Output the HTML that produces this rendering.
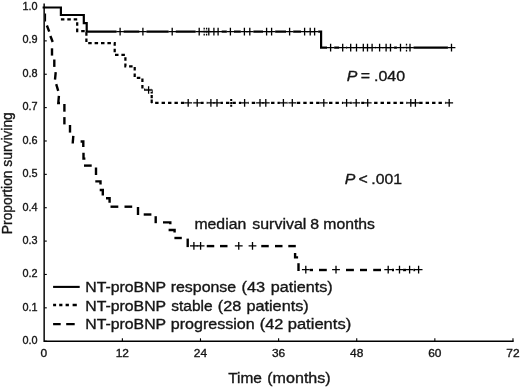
<!DOCTYPE html>
<html><head><meta charset="utf-8"><title>Kaplan-Meier</title>
<style>
html,body{margin:0;padding:0;background:#fff;}
body{width:520px;height:388px;overflow:hidden;}
svg{display:block;filter:grayscale(1);}
text{font-family:"Liberation Sans",sans-serif;fill:#151515;stroke:#151515;stroke-width:0.35px;}
</style></head><body>
<svg width="520" height="388" viewBox="0 0 520 388">
<rect x="0" y="0" width="520" height="388" fill="#fff"/>

<g stroke="#000" stroke-width="1.45" fill="none" stroke-linecap="butt">
<path d="M44.15 3.6 V341.3 H513.7"/>
</g>
<g stroke="#000" stroke-width="1.1" fill="none">
<path d="M122.37 341 v-2.7"/>
<path d="M200.49 341 v-2.7"/>
<path d="M278.61 341 v-2.7"/>
<path d="M356.73 341 v-2.7"/>
<path d="M434.85 341 v-2.7"/>
<path d="M512.97 341 v-2.7"/>
<path d="M44.3 341.20 h2.5"/>
<path d="M44.3 307.83 h2.5"/>
<path d="M44.3 274.46 h2.5"/>
<path d="M44.3 241.09 h2.5"/>
<path d="M44.3 207.72 h2.5"/>
<path d="M44.3 174.35 h2.5"/>
<path d="M44.3 140.98 h2.5"/>
<path d="M44.3 107.61 h2.5"/>
<path d="M44.3 74.24 h2.5"/>
<path d="M44.3 40.87 h2.5"/>
<path d="M44.3 7.50 h2.5"/>
</g>
<text transform="translate(37.5 344.30) scale(0.980 1)" font-size="11.10" text-anchor="end">0.0</text>
<text transform="translate(37.5 310.86) scale(0.980 1)" font-size="11.10" text-anchor="end">0.1</text>
<text transform="translate(37.5 277.42) scale(0.980 1)" font-size="11.10" text-anchor="end">0.2</text>
<text transform="translate(37.5 243.98) scale(0.980 1)" font-size="11.10" text-anchor="end">0.3</text>
<text transform="translate(37.5 210.54) scale(0.980 1)" font-size="11.10" text-anchor="end">0.4</text>
<text transform="translate(37.5 177.10) scale(0.980 1)" font-size="11.10" text-anchor="end">0.5</text>
<text transform="translate(37.5 143.66) scale(0.980 1)" font-size="11.10" text-anchor="end">0.6</text>
<text transform="translate(37.5 110.22) scale(0.980 1)" font-size="11.10" text-anchor="end">0.7</text>
<text transform="translate(37.5 76.78) scale(0.980 1)" font-size="11.10" text-anchor="end">0.8</text>
<text transform="translate(37.5 43.34) scale(0.980 1)" font-size="11.10" text-anchor="end">0.9</text>
<text transform="translate(37.5 9.90) scale(0.980 1)" font-size="11.10" text-anchor="end">1.0</text>
<text transform="translate(43.85 357.2) scale(1.030 1)" font-size="11.60" text-anchor="middle">0</text>
<text transform="translate(122.37 357.2) scale(1.030 1)" font-size="11.60" text-anchor="middle">12</text>
<text transform="translate(200.49 357.2) scale(1.030 1)" font-size="11.60" text-anchor="middle">24</text>
<text transform="translate(278.61 357.2) scale(1.030 1)" font-size="11.60" text-anchor="middle">36</text>
<text transform="translate(356.73 357.2) scale(1.030 1)" font-size="11.60" text-anchor="middle">48</text>
<text transform="translate(434.85 357.2) scale(1.030 1)" font-size="11.60" text-anchor="middle">60</text>
<text transform="translate(512.97 357.2) scale(1.030 1)" font-size="11.60" text-anchor="middle">72</text>
<text font-size="13.8" text-anchor="middle" transform="translate(11.5 173.2) rotate(-90)">Proportion surviving</text>
<text transform="translate(228.15 383.40) scale(1.0314 1)" font-size="15.00">Time</text>
<text transform="translate(267.24 383.40) scale(1.0724 1)" font-size="15.00">(months)</text>
<path d="M42.6 7.5 H60.9 V15 H83.8 V23.2 H86.7 V31.55 H321.1 V47.55 H452" stroke="#000" stroke-width="2.2" fill="none" stroke-linejoin="miter"/>
<path d="M60.9 19.3 H77.2 V31 H86.4 V43.2 H114.7 V54.8 H125.4 V66.3 H134.7 V77.8 H142.4 V89.7 H151.7" stroke="#000" stroke-width="2.25" fill="none" stroke-dasharray="3.5 2.9"/>
<path d="M151.7 90.2 V102.9" stroke="#000" stroke-width="2.25" fill="none" stroke-dasharray="3.3 1.4"/>
<path d="M151.7 102.9 H448.5" stroke="#000" stroke-width="2.3" fill="none" stroke-dasharray="3.4 3.04" stroke-dashoffset="-3.45"/>
<path d="M45.5 13.5 V21.5" stroke="#000" stroke-width="1.2" fill="none"/>
<g stroke="#000" stroke-width="2.4" fill="none">
<path d="M46.9 25.5 L49.2 31.7"/>
<path d="M50.4 36.0 L52.7 42.0"/>
<path d="M52.0 48.3 L52.0 55.6"/>
<path d="M54.3 59.5 L54.3 66.9"/>
<path d="M55.7 72.2 L55.0 79.6"/>
<path d="M56.2 84.2 L58.2 90.8"/>
<path d="M64.4 104.0 L64.4 111.7"/>
<path d="M64.4 117.1 L64.4 124.4"/>
<path d="M70.0 125.0 L70.0 132.6"/>
<path d="M73.3 135.8 L72.7 143.5"/>
<path d="M58.9 95.8 L58.3 103 H60"/>
<path d="M80.6 141.5 H83.3 V147"/>
<path d="M83.5 152.8 V158.6 H85.4"/>
<path d="M84 165.6 H91.7"/>
<path d="M96 167.5 V175"/>
<path d="M95.3 181.4 H100.5 V184.5"/>
<path d="M99.7 190 H102.8 V195.5"/>
<path d="M106 198.2 H109.6 V202.8"/>
<path d="M110.5 206.7 H118.3"/>
<path d="M124.5 206.7 H132.2"/>
<path d="M138 207 V215"/>
<path d="M143.7 214.5 H151.4"/>
<path d="M155.7 216.2 V223.2"/>
<path d="M163 222.4 H170.3 V224.2"/>
<path d="M168.6 230 H174.6 V232.4"/>
<path d="M174.4 238 H181.8"/>
<path d="M187.7 238.6 V247.1"/>
<path d="M206.75 246.1 H214.25"/>
<path d="M220 246.1 H227.5"/>
<path d="M261.25 246.1 H268.75"/>
<path d="M275 246.1 H282.5"/>
<path d="M288.3 246.1 H295.8"/>
<path d="M295.1 253.1 V257.4 H298.1"/>
<path d="M298.5 263.2 V271"/>
<path d="M309.6 270.0 H313.0"/>
<path d="M319 270.0 H326.8"/>
<path d="M346 270.0 H353.9"/>
<path d="M360 270.0 H367"/>
<path d="M373.2 270.0 H381"/>
<path d="M392 270.0 H394"/>
<path d="M402.9 270.0 H406.3"/>
<path d="M413.3 270.0 H415.3"/>
</g>
<g fill="#fff" stroke="none">
<rect x="116.50" y="29.85" width="7.20" height="3.40"/>
<rect x="139.30" y="29.85" width="7.20" height="3.40"/>
<rect x="168.60" y="29.85" width="7.20" height="3.40"/>
<rect x="195.60" y="29.85" width="7.20" height="3.40"/>
<rect x="205.20" y="29.85" width="7.20" height="3.40"/>
<rect x="210.30" y="29.85" width="7.20" height="3.40"/>
<rect x="214.50" y="29.85" width="7.20" height="3.40"/>
<rect x="226.80" y="29.85" width="7.20" height="3.40"/>
<rect x="240.80" y="29.85" width="7.20" height="3.40"/>
<rect x="246.20" y="29.85" width="7.20" height="3.40"/>
<rect x="263.00" y="29.85" width="7.20" height="3.40"/>
<rect x="268.00" y="29.85" width="7.20" height="3.40"/>
<rect x="286.00" y="29.85" width="7.20" height="3.40"/>
<rect x="301.00" y="29.85" width="7.20" height="3.40"/>
<rect x="306.60" y="29.85" width="7.20" height="3.40"/>
<rect x="311.00" y="29.85" width="7.20" height="3.40"/>
<rect x="200.60" y="29.85" width="7.20" height="3.40"/>
<rect x="203.00" y="29.85" width="7.20" height="3.40"/>
<rect x="327.00" y="45.85" width="7.20" height="3.40"/>
<rect x="339.10" y="45.85" width="7.20" height="3.40"/>
<rect x="347.10" y="45.85" width="7.20" height="3.40"/>
<rect x="352.90" y="45.85" width="7.20" height="3.40"/>
<rect x="359.70" y="45.85" width="7.20" height="3.40"/>
<rect x="363.90" y="45.85" width="7.20" height="3.40"/>
<rect x="368.50" y="45.85" width="7.20" height="3.40"/>
<rect x="376.00" y="45.85" width="7.20" height="3.40"/>
<rect x="382.50" y="45.85" width="7.20" height="3.40"/>
<rect x="386.90" y="45.85" width="7.20" height="3.40"/>
<rect x="396.90" y="45.85" width="7.20" height="3.40"/>
<rect x="406.40" y="45.85" width="7.20" height="3.40"/>
<rect x="447.90" y="45.85" width="7.20" height="3.40"/>
<rect x="402.90" y="45.85" width="7.20" height="3.40"/>
<rect x="145.00" y="88.30" width="7.20" height="3.40"/>
<rect x="184.60" y="101.20" width="7.20" height="3.40"/>
<rect x="193.60" y="101.20" width="7.20" height="3.40"/>
<rect x="207.30" y="101.20" width="7.20" height="3.40"/>
<rect x="213.40" y="101.20" width="7.20" height="3.40"/>
<rect x="241.00" y="101.20" width="7.20" height="3.40"/>
<rect x="256.40" y="101.20" width="7.20" height="3.40"/>
<rect x="262.20" y="101.20" width="7.20" height="3.40"/>
<rect x="279.80" y="101.20" width="7.20" height="3.40"/>
<rect x="288.70" y="101.20" width="7.20" height="3.40"/>
<rect x="320.20" y="101.20" width="7.20" height="3.40"/>
<rect x="343.00" y="101.20" width="7.20" height="3.40"/>
<rect x="352.60" y="101.20" width="7.20" height="3.40"/>
<rect x="364.10" y="101.20" width="7.20" height="3.40"/>
<rect x="407.20" y="101.20" width="7.20" height="3.40"/>
<rect x="411.80" y="101.20" width="7.20" height="3.40"/>
<rect x="445.60" y="101.20" width="7.20" height="3.40"/>
<rect x="190.30" y="244.20" width="7.20" height="3.40"/>
<rect x="197.00" y="244.20" width="7.20" height="3.40"/>
<rect x="235.15" y="244.20" width="7.20" height="3.40"/>
<rect x="248.90" y="244.20" width="7.20" height="3.40"/>
<rect x="302.20" y="267.90" width="7.20" height="3.40"/>
<rect x="332.40" y="267.90" width="7.20" height="3.40"/>
<rect x="384.60" y="267.90" width="7.20" height="3.40"/>
<rect x="395.90" y="267.90" width="7.20" height="3.40"/>
<rect x="406.00" y="267.90" width="7.20" height="3.40"/>
<rect x="415.00" y="267.90" width="7.20" height="3.40"/>
</g>
<g stroke="#000" stroke-width="1.3" fill="none">
<path d="M116.20 31.55 h7.80 M120.10 27.70 v7.70"/>
<path d="M139.00 31.55 h7.80 M142.90 27.70 v7.70"/>
<path d="M168.30 31.55 h7.80 M172.20 27.70 v7.70"/>
<path d="M195.30 31.55 h7.80 M199.20 27.70 v7.70"/>
<path d="M204.90 31.55 h7.80 M208.80 27.70 v7.70"/>
<path d="M210.00 31.55 h7.80 M213.90 27.70 v7.70"/>
<path d="M214.20 31.55 h7.80 M218.10 27.70 v7.70"/>
<path d="M226.50 31.55 h7.80 M230.40 27.70 v7.70"/>
<path d="M240.50 31.55 h7.80 M244.40 27.70 v7.70"/>
<path d="M245.90 31.55 h7.80 M249.80 27.70 v7.70"/>
<path d="M262.70 31.55 h7.80 M266.60 27.70 v7.70"/>
<path d="M267.70 31.55 h7.80 M271.60 27.70 v7.70"/>
<path d="M285.70 31.55 h7.80 M289.60 27.70 v7.70"/>
<path d="M300.70 31.55 h7.80 M304.60 27.70 v7.70"/>
<path d="M306.30 31.55 h7.80 M310.20 27.70 v7.70"/>
<path d="M310.70 31.55 h7.80 M314.60 27.70 v7.70"/>
<path d="M200.30 31.55 h7.80"/><path d="M204.20 27.70 v7.70" stroke-dasharray="1.7 1.3"/>
<path d="M202.70 31.55 h7.80"/><path d="M206.60 27.70 v7.70" stroke-dasharray="1.7 1.3"/>
<path d="M326.70 47.55 h7.80 M330.60 43.70 v7.70"/>
<path d="M338.80 47.55 h7.80 M342.70 43.70 v7.70"/>
<path d="M346.80 47.55 h7.80 M350.70 43.70 v7.70"/>
<path d="M352.60 47.55 h7.80 M356.50 43.70 v7.70"/>
<path d="M359.40 47.55 h7.80 M363.30 43.70 v7.70"/>
<path d="M363.60 47.55 h7.80 M367.50 43.70 v7.70"/>
<path d="M368.20 47.55 h7.80 M372.10 43.70 v7.70"/>
<path d="M375.70 47.55 h7.80 M379.60 43.70 v7.70"/>
<path d="M382.20 47.55 h7.80 M386.10 43.70 v7.70"/>
<path d="M386.60 47.55 h7.80 M390.50 43.70 v7.70"/>
<path d="M396.60 47.55 h7.80 M400.50 43.70 v7.70"/>
<path d="M406.10 47.55 h7.80 M410.00 43.70 v7.70"/>
<path d="M447.60 47.55 h7.80 M451.50 43.70 v7.70"/>
<path d="M402.60 47.55 h7.80"/><path d="M406.50 43.70 v7.70" stroke-dasharray="1.7 1.3"/>
<path d="M144.70 90.00 h7.80 M148.60 86.15 v7.70"/>
<path d="M184.30 102.90 h7.80 M188.20 99.05 v7.70"/>
<path d="M193.30 102.90 h7.80 M197.20 99.05 v7.70"/>
<path d="M207.00 102.90 h7.80 M210.90 99.05 v7.70"/>
<path d="M213.10 102.90 h7.80 M217.00 99.05 v7.70"/>
<path d="M240.70 102.90 h7.80 M244.60 99.05 v7.70"/>
<path d="M256.10 102.90 h7.80 M260.00 99.05 v7.70"/>
<path d="M261.90 102.90 h7.80 M265.80 99.05 v7.70"/>
<path d="M279.50 102.90 h7.80 M283.40 99.05 v7.70"/>
<path d="M288.40 102.90 h7.80 M292.30 99.05 v7.70"/>
<path d="M319.90 102.90 h7.80 M323.80 99.05 v7.70"/>
<path d="M342.70 102.90 h7.80 M346.60 99.05 v7.70"/>
<path d="M352.30 102.90 h7.80 M356.20 99.05 v7.70"/>
<path d="M363.80 102.90 h7.80 M367.70 99.05 v7.70"/>
<path d="M406.90 102.90 h7.80 M410.80 99.05 v7.70"/>
<path d="M411.50 102.90 h7.80 M415.40 99.05 v7.70"/>
<path d="M445.30 102.90 h7.80 M449.20 99.05 v7.70"/>
<path d="M231.2 99 V106.8" stroke-width="2" stroke-dasharray="2 0.9"/>
<path d="M190.00 245.90 h7.80 M193.90 242.05 v7.70"/>
<path d="M196.70 245.90 h7.80 M200.60 242.05 v7.70"/>
<path d="M234.85 245.90 h7.80 M238.75 242.05 v7.70"/>
<path d="M248.60 245.90 h7.80 M252.50 242.05 v7.70"/>
<path d="M301.90 269.60 h7.80 M305.80 265.75 v7.70"/>
<path d="M332.10 269.60 h7.80 M336.00 265.75 v7.70"/>
<path d="M384.30 269.60 h7.80 M388.20 265.75 v7.70"/>
<path d="M395.60 269.60 h7.80 M399.50 265.75 v7.70"/>
<path d="M405.70 269.60 h7.80 M409.60 265.75 v7.70"/>
<path d="M414.70 269.60 h7.80 M418.60 265.75 v7.70"/>
</g>
<text transform="translate(346.69 80.60) scale(1.0600 1)" font-size="15.00" font-style="italic">P</text>
<text transform="translate(360.85 80.60) scale(1.0600 1)" font-size="15.00">=</text>
<text transform="translate(374.02 80.60) scale(1.0652 1)" font-size="15.00">.040</text>
<text transform="translate(344.81 183.50) scale(1.0600 1)" font-size="15.00" font-style="italic">P</text>
<text transform="translate(358.50 183.50) scale(1.0600 1)" font-size="15.00">&lt;</text>
<text transform="translate(371.29 183.50) scale(1.0526 1)" font-size="15.00">.001</text>
<text transform="translate(194.43 229.10) scale(1.0535 1)" font-size="15.00">median</text>
<text transform="translate(252.26 229.10) scale(1.0642 1)" font-size="15.00">survival</text>
<text transform="translate(310.34 229.10) scale(1.0600 1)" font-size="15.00">8</text>
<text transform="translate(323.34 229.10) scale(1.0511 1)" font-size="15.00">months</text>
<g stroke="#000" fill="none">
<path d="M53.1 286.9 H79.7" stroke-width="2.1"/>
<path d="M53.1 305 H56.1 M59.2 305 H62.4 M65.6 305 H68.9 M72.6 305 H76.8" stroke-width="2.4"/>
<path d="M53.1 324.1 H60.7 M66.2 324.1 H74.7" stroke-width="2.4"/>
</g>
<text transform="translate(85.30 292.00) scale(1.0541 1)" font-size="15.00">NT-proBNP</text>
<text transform="translate(85.30 310.60) scale(1.0541 1)" font-size="15.00">NT-proBNP</text>
<text transform="translate(85.30 329.20) scale(1.0541 1)" font-size="15.00">NT-proBNP</text>
<text transform="translate(170.67 292.00) scale(1.0618 1)" font-size="15.00">response</text>
<text transform="translate(241.47 292.00) scale(1.0945 1)" font-size="15.00">(43</text>
<text transform="translate(270.70 292.00) scale(1.0780 1)" font-size="15.00">patients)</text>
<text transform="translate(171.32 310.60) scale(1.0330 1)" font-size="15.00">stable</text>
<text transform="translate(217.74 310.60) scale(1.0821 1)" font-size="15.00">(28</text>
<text transform="translate(246.44 310.60) scale(1.0825 1)" font-size="15.00">patients)</text>
<text transform="translate(170.70 329.20) scale(1.0729 1)" font-size="15.00">progression</text>
<text transform="translate(259.73 329.20) scale(1.0882 1)" font-size="15.00">(42</text>
<text transform="translate(287.67 329.20) scale(1.1050 1)" font-size="15.00">patients)</text>
</svg></body></html>
